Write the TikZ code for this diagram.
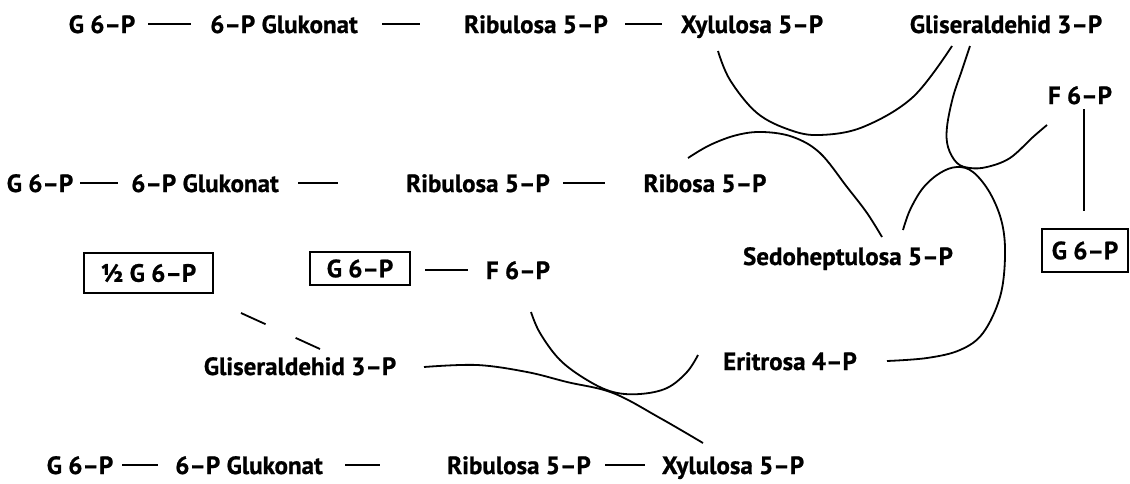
\documentclass[tikz,border=0pt]{standalone}
\usepackage{fontspec}
\setmainfont{PT Sans}[BoldFeatures={FakeBold=0.8}]
\begin{document}
\begin{tikzpicture}[x=1pt,y=-1pt,
  lbl/.style={inner sep=0pt,anchor=base,font=\fontsize{25}{30}\selectfont\bfseries},
  boxed/.style={draw,line width=1.5pt,inner sep=0pt,anchor=center,font=\fontsize{25}{30}\selectfont\bfseries},
  link/.style={line width=1.8pt},
  arc/.style={line width=1.8pt,smooth,tension=0.6}]
\useasboundingbox (0,0) rectangle (1130,483);
% row 1
\node[lbl] (r1a) at (102,33) {G 6–P};
\node[lbl] (r1b) at (284,33) {6–P Glukonat};
\node[lbl] (r1c) at (536,33) {Ribulosa 5–P};
\node[lbl] (r1d) at (752,33) {Xylulosa 5–P};
\node[lbl] (r1e) at (1006,33) {Gliseraldehid 3–P};
\draw[link] (148,24) coordinate (r1l1a) -- (191,24) coordinate (r1l1b);
\draw[link] (382,24) coordinate (r1l2a) -- (420,24) coordinate (r1l2b);
\draw[link] (625,24) coordinate (r1l3a) -- (662,24) coordinate (r1l3b);
% right
\node[lbl] (f6r) at (1080,104) {F 6–P};
\node[boxed,minimum width=86pt,minimum height=43pt] (g6r) at (1085,250.5) {G 6–P};
\draw[link] (1084,109) coordinate (vt) -- (1084,211) coordinate (vb);
% row 2
\node[lbl] (r2a) at (40,192) {G 6–P};
\node[lbl] (r2b) at (205,192) {6–P Glukonat};
\node[lbl] (r2c) at (478,192) {Ribulosa 5–P};
\node[lbl] (r2d) at (705,192) {Ribosa 5–P};
\draw[link] (80,183) coordinate (r2l1a) -- (118,183) coordinate (r2l1b);
\draw[link] (298,183) coordinate (r2l2a) -- (338,183) coordinate (r2l2b);
\draw[link] (563,183) coordinate (r2l3a) -- (605,183) coordinate (r2l3b);
% middle
\node[lbl] (sedo) at (848,265) {Sedoheptulosa 5–P};
\node[boxed,minimum width=129pt,minimum height=40pt] (half) at (148.5,273) {½ G 6–P};
\node[boxed,minimum width=100pt,minimum height=33pt] (g6m) at (360,268.5) {G 6–P};
\node[lbl] (f6m) at (518,279) {F 6–P};
\draw[link] (425,270) coordinate (ml1a) -- (468,270) coordinate (ml1b);
\node[lbl] (glim) at (300,375) {Gliseraldehid 3–P};
\node[lbl] (erit) at (790,370) {Eritrosa 4–P};
\draw[line width=1.8pt,dash pattern=on 27pt off 33pt] (241,313) coordinate (da) -- (320,349) coordinate (db);
% row 3
\node[lbl] (r3a) at (80,474) {G 6–P};
\node[lbl] (r3b) at (249,474) {6–P Glukonat};
\node[lbl] (r3c) at (519,474) {Ribulosa 5–P};
\node[lbl] (r3d) at (733,474) {Xylulosa 5–P};
\draw[link] (122,465) coordinate (r3l1a) -- (158,465) coordinate (r3l1b);
\draw[link] (345,465) coordinate (r3l2a) -- (380,465) coordinate (r3l2b);
\draw[link] (605,465) coordinate (r3l3a) -- (645,465) coordinate (r3l3b);
% curves
\draw[arc] plot coordinates {(718,51) (730,80) (757,113) (790,130) (820,135) (863,127) (913,97) (952,46)};
\draw[arc] plot coordinates {(688,158) (710,145) (737,135) (763,132) (793,137) (820,153) (847,187) (867,213) (882,237)};
\draw[arc] plot coordinates {(970,46) (962,70) (953,97) (947,127) (948,147) (957,163) (970,168) (987,167) (1010,158) (1033,137) (1047,125)};
\draw[arc] plot coordinates {(903,230) (910,210) (923,188) (940,173) (957,167) (973,172) (990,193) (1002,223) (1005,257) (1000,297) (983,333) (960,350) (927,358) (887,361)};
\draw[arc] plot coordinates {(531,312) (540,333) (560,360) (587,380) (613,392) (640,394) (667,388) (687,372) (698,355)};
\draw[arc] plot coordinates {(424,367) (477,365) (527,372) (567,382) (613,393) (660,418) (703,443)};
\end{tikzpicture}
\end{document}
